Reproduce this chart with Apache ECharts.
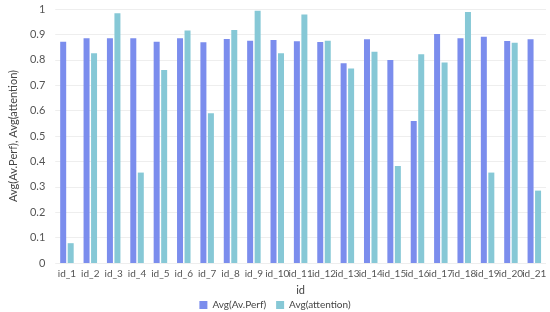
<!DOCTYPE html>
<html><head><meta charset="utf-8">
<script src="https://cdn.jsdelivr.net/npm/echarts@6/dist/echarts.min.js"></script>
<style>html,body{margin:0;padding:0;background:#fff}#c{width:550px;height:312px}</style>
</head><body><div id="c"></div>
<script>
const categories = ["id_1","id_2","id_3","id_4","id_5","id_6","id_7","id_8","id_9","id_10","id_11","id_12","id_13","id_14","id_15","id_16","id_17","id_18","id_19","id_20","id_21"];
const perf = [0.871,0.885,0.885,0.885,0.871,0.885,0.869,0.882,0.875,0.878,0.873,0.870,0.786,0.881,0.799,0.559,0.902,0.885,0.891,0.874,0.881];
const attention = [0.078,0.826,0.983,0.356,0.760,0.915,0.590,0.917,0.993,0.826,0.978,0.875,0.766,0.832,0.382,0.822,0.789,0.988,0.356,0.867,0.285];
const seriesNames = ["Avg(Av.Perf)","Avg(attention)"];
const yTicks = [0,0.1,0.2,0.3,0.4,0.5,0.6,0.7,0.8,0.9,1];

const chart = echarts.init(document.getElementById('c'));
const font = "Lato, sans-serif";
chart.setOption({
  animation:false,
  textStyle:{fontFamily:font},
  grid:{left:32,right:4,top:9,bottom:49,containLabel:false},
  legend:{top:295,left:'center',itemWidth:8,itemHeight:8,itemGap:10,
    textStyle:{fontSize:10,color:'#444',fontFamily:font},
    data:seriesNames, icon:'rect'},
  xAxis:{type:'category',data:categories,name:'id',nameLocation:'middle',nameGap:22,
    nameTextStyle:{fontSize:11,color:'#444'},
    axisLine:{show:false},axisTick:{show:false},
    axisLabel:{fontSize:10,color:'#555',interval:0,margin:6}},
  yAxis:{type:'value',min:0,max:1,interval:0.1,
    name:'Avg(Av.Perf), Avg(attention)',nameLocation:'middle',nameGap:26,
    nameTextStyle:{fontSize:11,color:'#444'},
    axisLabel:{fontSize:11,color:'#555',margin:10,
      formatter:v=>{const t=yTicks.find(x=>Math.abs(x-v)<1e-6);return t===undefined?'':String(t);}},
    splitLine:{lineStyle:{color:'#eeeeee'}},axisLine:{show:false},axisTick:{show:false}},
  series:[
    {name:seriesNames[0],type:'bar',data:perf,barWidth:6,barGap:'25%',itemStyle:{color:'#7b8ded'}},
    {name:seriesNames[1],type:'bar',data:attention,barWidth:6,barGap:'25%',itemStyle:{color:'#86c8d6'}}
  ]
});
</script></body></html>
